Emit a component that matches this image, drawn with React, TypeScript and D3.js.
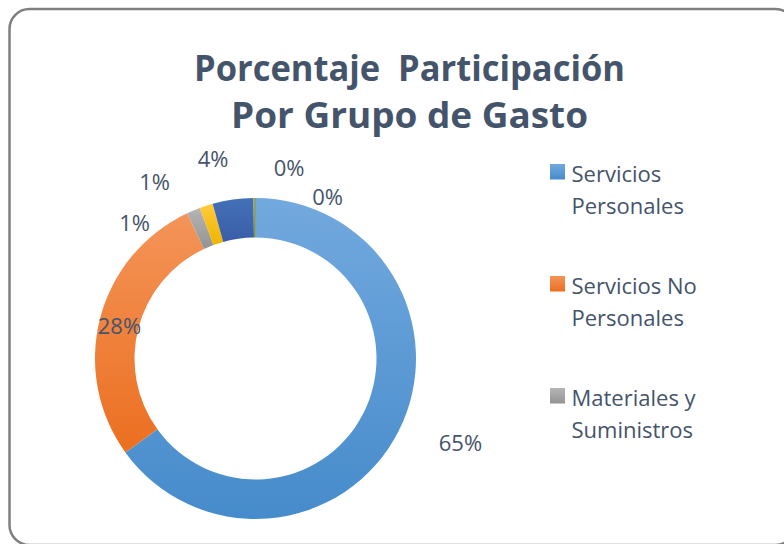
import React from "react";
import * as d3 from "d3";

// ---- data ----
const categories = [
  "Servicios Personales",
  "Servicios No Personales",
  "Materiales y Suministros",
  "Bienes de Uso",
  "Transferencias",
  "Activos Financieros",
  "Otros",
];
const values = [65.05, 27.95, 1.35, 1.35, 4.1, 0.15, 0.05];
const legendLines = [
  ["Servicios", "Personales"],
  ["Servicios No", "Personales"],
  ["Materiales y", "Suministros"],
];
const titleLines = ["Porcentaje  Participación", "Por Grupo de Gasto"];

// ---- styles ----
const gradTop = ["#72a9de", "#f49459", "#b5b5b5", "#ffcb3c", "#4470b8", "#7bb552", "#9e480e"];
const gradBottom = ["#468bcb", "#eb6f20", "#939393", "#efb400", "#3a5ea6", "#66a23c", "#843c0c"];
const textColor = "#44546a";
// label layout (degrees clockwise from 12 o'clock, radius)
const labelAngle = [112.3, 283.6, 318.2, 330.3, 348, 10, 24.1];
const labelRadius = [221.5, 140, 181.5, 203.5, 203.8, 193, 176.4];
const titleWidths = [431, 357];

const W = 784;
const H = 544;
const cx = 255.5;
const cy = 358.5;
const outerR = 160.5;
const innerR = 121;

export default function App() {
  const pie = d3
    .pie<number>()
    .sort(null)
    .value((d) => d)
    .startAngle(0)
    .endAngle(2 * Math.PI);
  const arcs = pie(values);
  const arc = d3.arc<d3.PieArcDatum<number>>().innerRadius(innerR).outerRadius(outerR);
  const total = d3.sum(values);
  const fmt = (v: number) => `${Math.round((v / total) * 100)}%`;
  const font = "'Open Sans', 'Noto Sans', sans-serif";

  return (
    <svg
      width={W}
      height={H}
      style={{ position: "absolute", left: 0, top: 0, background: "#fff" }}
    >
      <defs>
        {values.map((_, i) => (
          <linearGradient key={i} id={`g${i}`} x1="0" y1="0" x2="0" y2="1">
            <stop offset="0" stopColor={gradTop[i]} />
            <stop offset="1" stopColor={gradBottom[i]} />
          </linearGradient>
        ))}
      </defs>
      <rect x={0} y={0} width={W} height={H} fill="#fff" />
      <rect
        x={9.5}
        y={9}
        width={786}
        height={536}
        rx={20}
        ry={20}
        fill="#fff"
        stroke="#7f7f7f"
        strokeWidth={2.5}
      />
      <g fontFamily={font} fontWeight={700} fontSize={36} fill={textColor} textAnchor="middle">
        {titleLines.map((t, i) => (
          <text
            key={i}
            x={409.5}
            y={81 + i * 46.5}
            textLength={titleWidths[i]}
            lengthAdjust="spacingAndGlyphs"
            style={{ whiteSpace: "pre" }}
          >
            {t}
          </text>
        ))}
      </g>
      <g transform={`translate(${cx},${cy})`}>
        {arcs.map((a, i) => (
          <path key={i} d={arc(a) || ""} fill={`url(#g${i})`} />
        ))}
      </g>
      <g fontFamily={font} fontSize={22} fill={textColor} textAnchor="middle">
        {arcs.map((a, i) => {
          const th = (labelAngle[i] * Math.PI) / 180;
          const x = cx + labelRadius[i] * Math.sin(th);
          const y = cy - labelRadius[i] * Math.cos(th);
          return (
            <text key={i} x={x} y={y + 8}>
              {fmt(a.data)}
            </text>
          );
        })}
      </g>
      <g fontFamily={font} fontSize={22} fill={textColor}>
        {legendLines.map((lines, i) => (
          <g key={i} transform={`translate(550,${164 + i * 112})`}>
            <rect x={0} y={0} width={15} height={15.5} fill={`url(#g${i})`} />
            {lines.map((l, j) => (
              <text key={j} x={21.5} y={18 + j * 31.5}>
                {l}
              </text>
            ))}
          </g>
        ))}
      </g>
    </svg>
  );
}
